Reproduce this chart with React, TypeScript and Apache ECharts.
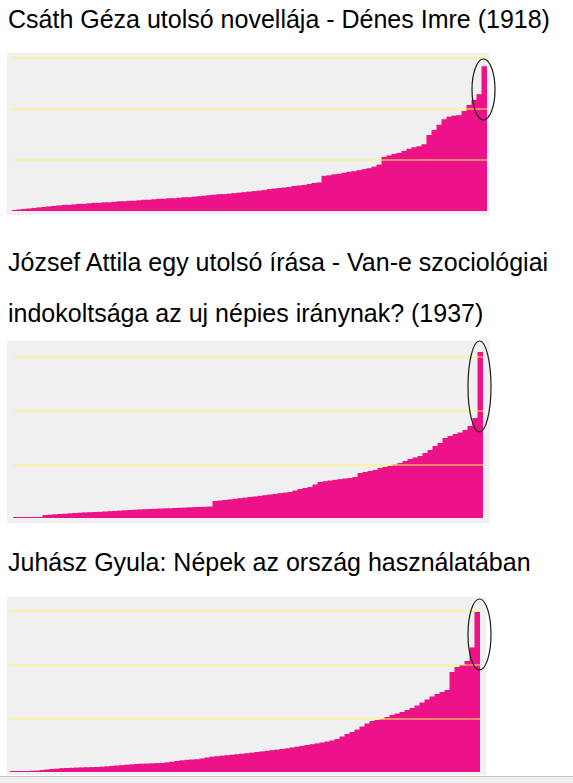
import React, { useEffect, useRef } from "react";
import * as echarts from "echarts";

const titleNovella = "Csáth Géza utolsó novellája - Dénes Imre (1918)";
const titleAttila1 = "József Attila egy utolsó írása - Van-e szociológiai";
const titleAttila2 = "indokoltsága az uj népies iránynak? (1937)";
const titleJuhasz = "Juhász Gyula: Népek az ország használatában";

const novella = [
  0.02, 0.03, 0.04, 0.05, 0.06, 0.07, 0.08, 0.09, 0.10, 0.11,
  0.12, 0.12, 0.13, 0.14, 0.14, 0.15, 0.16, 0.16, 0.17, 0.17,
  0.18, 0.19, 0.19, 0.20, 0.20, 0.21, 0.22, 0.22, 0.23, 0.24,
  0.24, 0.25, 0.25, 0.26, 0.27, 0.27, 0.28, 0.29, 0.30, 0.31,
  0.32, 0.33, 0.33, 0.34, 0.35, 0.36, 0.37, 0.38, 0.39, 0.40,
  0.41, 0.43, 0.44, 0.45, 0.46, 0.47, 0.49, 0.50, 0.51, 0.53,
  0.55, 0.56, 0.69, 0.70, 0.72, 0.73, 0.75, 0.77, 0.78, 0.80,
  0.82, 0.84, 0.87, 0.91, 1.06, 1.09, 1.12, 1.14, 1.18, 1.22,
  1.25, 1.27, 1.31, 1.49, 1.59, 1.69, 1.80, 1.85, 1.87, 1.88,
  1.96, 2.08, 2.18, 2.29, 2.84,
];

const attila = [
  0.019, 0.019, 0.019, 0.019, 0.019, 0.019, 0.056, 0.061, 0.069, 0.074,
  0.080, 0.086, 0.093, 0.099, 0.104, 0.108, 0.112, 0.115, 0.121, 0.127,
  0.132, 0.138, 0.143, 0.149, 0.155, 0.160, 0.164, 0.168, 0.171, 0.175,
  0.179, 0.182, 0.186, 0.190, 0.194, 0.199, 0.203, 0.205, 0.209, 0.214,
  0.317, 0.326, 0.335, 0.346, 0.358, 0.369, 0.380, 0.391, 0.402, 0.413,
  0.425, 0.438, 0.449, 0.462, 0.473, 0.484, 0.512, 0.540, 0.559, 0.577,
  0.624, 0.670, 0.685, 0.698, 0.711, 0.724, 0.736, 0.745, 0.764, 0.838,
  0.857, 0.875, 0.894, 0.931, 0.950, 0.968, 0.996, 1.024, 1.061, 1.099,
  1.127, 1.155, 1.210, 1.266, 1.341, 1.397, 1.490, 1.527, 1.564, 1.592,
  1.639, 1.713, 1.862, 3.091,
];

const juhasz = [
  0.019, 0.019, 0.019, 0.019, 0.022, 0.026, 0.037, 0.047, 0.056, 0.063,
  0.071, 0.074, 0.078, 0.082, 0.086, 0.089, 0.091, 0.093, 0.099, 0.106,
  0.114, 0.121, 0.128, 0.136, 0.143, 0.151, 0.155, 0.158, 0.162, 0.166,
  0.168, 0.179, 0.192, 0.205, 0.218, 0.227, 0.233, 0.238, 0.251, 0.270,
  0.285, 0.294, 0.304, 0.313, 0.322, 0.331, 0.341, 0.350, 0.361, 0.372,
  0.384, 0.395, 0.406, 0.417, 0.428, 0.441, 0.456, 0.471, 0.486, 0.503,
  0.518, 0.533, 0.549, 0.568, 0.587, 0.615, 0.661, 0.708, 0.745, 0.791,
  0.847, 0.903, 0.950, 0.968, 0.987, 1.024, 1.061, 1.089, 1.117, 1.155,
  1.192, 1.238, 1.294, 1.350, 1.406, 1.453, 1.490, 1.527, 1.862, 1.955,
  1.993, 2.067, 2.320, 2.980,
];

const PINK = "#EE1289";
const GRAY = "#F0F0F0";
const GRID_LINE = "rgba(255,245,90,0.5)";
const FONT = "'Liberation Sans', Arial, sans-serif";

export default function App() {
  const ref = useRef<HTMLDivElement>(null);

  useEffect(() => {
    const chart = echarts.init(ref.current!, null, { renderer: "svg" });

    const panels = [
      {
        data: novella,
        grid: { left: 12, top: 53, width: 475, height: 158 },
        max: 3.098,
        bg: { x: 7, y: 53, width: 482, height: 162 },
        ell: { cx: 483.5, cy: 89.5, rx: 11.5, ry: 30.5 },
      },
      {
        data: attila,
        grid: { left: 13, top: 341, width: 470, height: 177 },
        max: 3.296,
        bg: { x: 7, y: 341, width: 483, height: 182 },
        ell: { cx: 479.5, cy: 386.5, rx: 11.5, ry: 45.5 },
      },
      {
        data: juhasz,
        grid: { left: 10, top: 597, width: 470, height: 175 },
        max: 3.259,
        bg: { x: 7, y: 597, width: 479, height: 178 },
        ell: { cx: 479.5, cy: 634.5, rx: 11.5, ry: 35.5 },
      },
    ];

    const titleTexts = [
      { text: titleNovella, y: 19 },
      { text: titleAttila1, y: 262 },
      { text: titleAttila2, y: 313 },
      { text: titleJuhasz, y: 562 },
    ];

    const graphic: any[] = [];
    panels.forEach((p) => {
      graphic.push({
        type: "rect",
        z: -10,
        silent: true,
        shape: p.bg,
        style: { fill: GRAY },
      });
    });
    titleTexts.forEach((t) => {
      graphic.push({
        type: "text",
        x: 8,
        y: t.y,
        z: 10,
        silent: true,
        style: {
          text: t.text,
          fill: "#000",
          font: `25px ${FONT}`,
          verticalAlign: "middle",
          align: "left",
        },
      });
    });
    panels.forEach((p) => {
      graphic.push({
        type: "ellipse",
        z: 20,
        silent: true,
        shape: p.ell,
        style: { fill: "none", stroke: "#1a1a1a", lineWidth: 1.2 },
      });
    });
    graphic.push({
      type: "rect",
      z: -10,
      silent: true,
      shape: { x: 0, y: 776, width: 573, height: 7 },
      style: { fill: "#F0F0F0" },
    });
    graphic.push({
      type: "line",
      z: -9,
      silent: true,
      shape: { x1: 0, y1: 776.5, x2: 573, y2: 776.5 },
      style: { stroke: "#C4C4C4", lineWidth: 1 },
    });

    chart.setOption({
      animation: false,
      backgroundColor: "#FFFFFF",
      grid: panels.map((p) => ({ ...p.grid, containLabel: false })),
      xAxis: panels.map((p, i) => ({
        type: "category",
        gridIndex: i,
        data: p.data.map((_, k) => String(k + 1)),
        show: false,
      })),
      yAxis: panels.map((p, i) => ({
        type: "value",
        gridIndex: i,
        min: 0,
        max: p.max,
        interval: 1,
        z: 5,
        axisLine: { show: false },
        axisTick: { show: false },
        axisLabel: { show: false },
        splitLine: {
          show: true,
          showMinLine: false,
          showMaxLine: false,
          lineStyle: { color: GRID_LINE, width: 2 },
        },
      })),
      series: panels.map((p, i) => ({
        type: "bar",
        xAxisIndex: i,
        yAxisIndex: i,
        data: p.data,
        barWidth: 6,
        silent: true,
        itemStyle: { color: PINK },
      })),
      graphic,
    });

    return () => chart.dispose();
  }, []);

  return (
    <div
      ref={ref}
      style={{ position: "fixed", left: 0, top: 0, width: 573, height: 783 }}
    />
  );
}
